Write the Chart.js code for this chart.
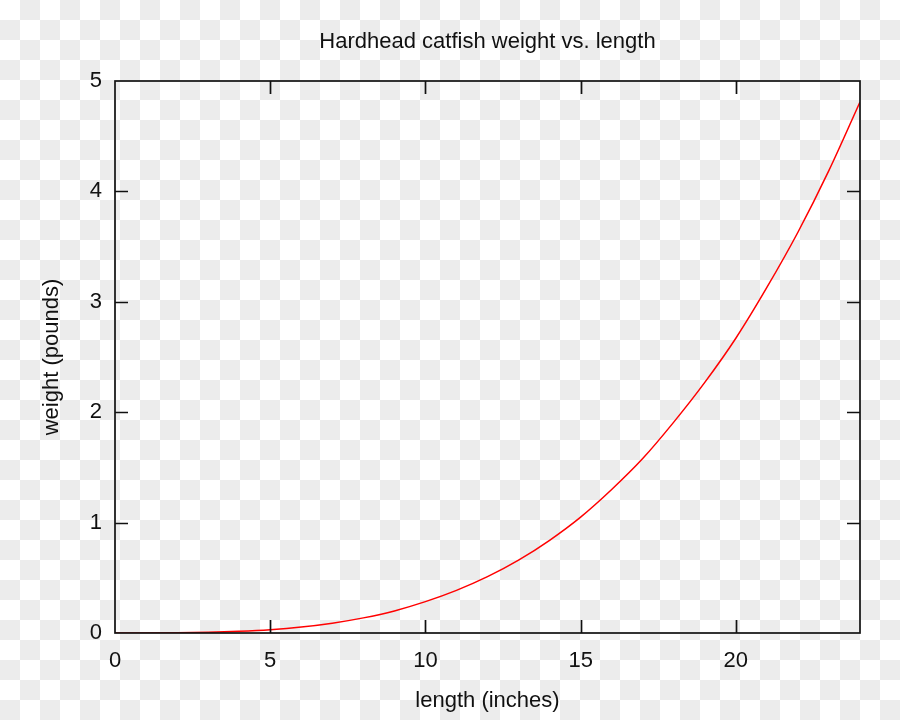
<!DOCTYPE html>
<html>
<head>
<meta charset="utf-8">
<script src="https://cdn.jsdelivr.net/npm/chart.js@4.4.1/dist/chart.umd.min.js"></script>
<style>
  html, body { margin: 0; padding: 0; }
  body {
    width: 900px; height: 720px; overflow: hidden;
    background: repeating-conic-gradient(#ececec 0 25%, #ffffff 0 50%) 0 0 / 40px 40px;
  }
  #wrap { position: relative; width: 900px; height: 720px; }
</style>
</head>
<body>
<div id="wrap"><canvas id="chart"></canvas></div>
<script>
// length (inches) and weight (pounds)
const lengths = [0, 1, 2, 3, 4, 5, 6, 7, 8, 9, 10, 11, 12, 13, 14, 15, 16, 17, 18, 19, 20, 21, 22, 23, 24];
const weights = [0, 0.0002, 0.0016, 0.0058, 0.015, 0.030, 0.054, 0.089, 0.137, 0.20, 0.284, 0.386, 0.51, 0.66, 0.84, 1.05, 1.30, 1.58, 1.91, 2.27, 2.67, 3.13, 3.63, 4.19, 4.81];

const titleText = 'Hardhead catfish weight vs. length';
const xTitle = 'length (inches)';
const yTitle = 'weight (pounds)';

const ink = '#111111';
const fontFamily = '"Liberation Sans", Arial, sans-serif';
const fontSize = 22;

// gnuplot style frame with inward ticks on all four sides
const framePlugin = {
    id: 'frame',
    afterDraw(chart) {
        const { ctx, chartArea: a, scales: { x, y } } = chart;
        const len = 13;
        ctx.save();
        ctx.strokeStyle = ink;
        ctx.lineWidth = 1.7;
        ctx.strokeRect(a.left, a.top, a.right - a.left, a.bottom - a.top);
        ctx.beginPath();
        x.ticks.forEach(t => {
            if (t.value <= x.min || t.value >= x.max) return;
            const px = Math.round(x.getPixelForValue(t.value)) + 0.5;
            ctx.moveTo(px, a.bottom); ctx.lineTo(px, a.bottom - len);
            ctx.moveTo(px, a.top); ctx.lineTo(px, a.top + len);
        });
        y.ticks.forEach(t => {
            if (t.value <= y.min || t.value >= y.max) return;
            const py = Math.round(y.getPixelForValue(t.value)) + 0.5;
            ctx.moveTo(a.left, py); ctx.lineTo(a.left + len, py);
            ctx.moveTo(a.right, py); ctx.lineTo(a.right - len, py);
        });
        ctx.stroke();
        ctx.restore();
    }
};

new Chart(document.getElementById('chart').getContext('2d'), {
    type: 'line',
    data: {
        datasets: [{
            data: lengths.map((l, i) => ({ x: l, y: weights[i] })),
            borderColor: '#ff0000',
            borderWidth: 1.5,
            pointRadius: 0,
            fill: false,
            cubicInterpolationMode: 'monotone'
        }]
    },
    options: {
        responsive: true, maintainAspectRatio: false, animation: false,
        layout: { padding: { left: 0, right: 40, top: 0, bottom: 0 } },
        plugins: {
            legend: { display: false },
            tooltip: { enabled: false },
            title: {
                display: true, text: titleText, color: ink, fullSize: false,
                font: { family: fontFamily, size: fontSize, weight: 'normal' },
                padding: { top: 29, bottom: 25.6 }
            }
        },
        scales: {
            x: {
                type: 'linear', min: 0, max: 24,
                grid: { display: false, drawTicks: false },
                border: { display: false },
                ticks: { stepSize: 5, includeBounds: false, color: ink, padding: 15, maxRotation: 0,
                         font: { family: fontFamily, size: fontSize } },
                title: { display: true, text: xTitle, color: ink, padding: { top: 0, bottom: 6 },
                         font: { family: fontFamily, size: fontSize } },
                afterFit: s => { s.height = 87; }
            },
            y: {
                type: 'linear', min: 0, max: 5,
                grid: { display: false, drawTicks: false },
                border: { display: false },
                ticks: { stepSize: 1, color: ink, padding: 13,
                         font: { family: fontFamily, size: fontSize } },
                title: { display: true, text: yTitle, color: ink, padding: { top: 39, bottom: 0 },
                         font: { family: fontFamily, size: fontSize } },
                afterFit: s => { s.width = 115; }
            }
        }
    },
    plugins: [framePlugin]
});
</script>
</body>
</html>
